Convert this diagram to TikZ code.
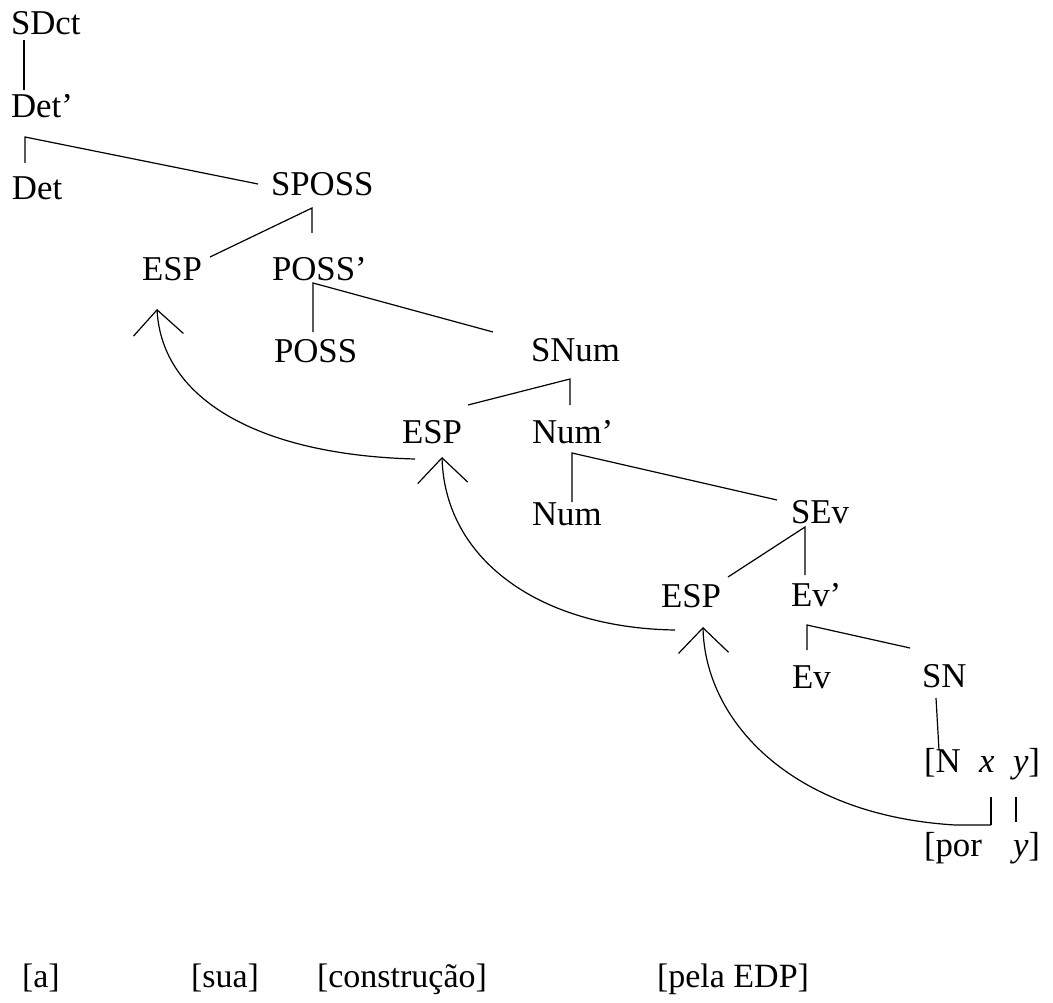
\documentclass[tikz,border=0pt]{standalone}
\usepackage{fontspec}
\setmainfont{Liberation Serif}
\usetikzlibrary{arrows.meta}
\tikzset{
  lbl/.style={anchor=base west, inner sep=0pt, outer sep=0pt,
    font=\fontsize{34.8}{40}\selectfont},
  gloss/.style={lbl, font=\fontsize{34}{40}\selectfont},
  branch/.style={line width=1.2pt, line join=miter},
  raise/.style={line width=1.2pt,
    -{Straight Barb[length=25pt,width=50pt,line width=1.2pt]}},
}
\begin{document}
\begin{tikzpicture}[x=1pt,y=-1pt]
\useasboundingbox (0,0) rectangle (1053,1003);

% ---- category labels (position = left end of the baseline)
\node[lbl] (SDet)    at (11,35)   {SDct};
\node[lbl] (DetBar)  at (11,118)  {Det’};
\node[lbl] (Det)     at (12,200)  {Det};
\node[lbl] (SPOSS)   at (271,196) {SPOSS};
\node[lbl] (ESPa)    at (142,281) {ESP};
\node[lbl] (POSSBar) at (272,281) {POSS’};
\node[lbl] (POSS)    at (274,362) {POSS};
\node[lbl] (SNum)    at (531,361) {SNum};
\node[lbl] (ESPb)    at (402,443) {ESP};
\node[lbl] (NumBar)  at (532,443) {Num’};
\node[lbl] (Num)     at (532,525) {Num};
\node[lbl] (SEv)     at (791,523) {SEv};
\node[lbl] (ESPc)    at (661,607) {ESP};
\node[lbl] (EvBar)   at (791,606) {Ev’};
\node[lbl] (Ev)      at (792,688) {Ev};
\node[lbl] (SN)      at (922,687) {SN};
\node[lbl] (Nhead)   at (924,772) {[N};
\node[lbl] (xarg)    at (979,772) {\textit{x}};
\node[lbl] (yarg)    at (1013,772) {\textit{y}]};
\node[lbl] (por)     at (924,856) {[por};
\node[lbl] (ypor)    at (1013,856) {\textit{y}]};

% ---- gloss line
\node[gloss] (wa)   at (22,987)  {[a]};
\node[gloss] (wsua) at (191,987) {[sua]};
\node[gloss] (wcon) at (317,987) {[construção]};
\node[gloss] (wpela) at (657,987) {[pela EDP]};

% ---- branch points and line ends
\coordinate (SDet-d)   at (24,40);
\coordinate (DetBar-u) at (24,90);
\coordinate (kDet)     at (25,137);
\coordinate (Det-u)    at (25,163);
\coordinate (SPOSS-l)  at (258,184);
\coordinate (kSPOSS)   at (312,208);
\coordinate (ESPa-r)   at (210,257);
\coordinate (POSSBar-u) at (312,233);
\coordinate (kPOSS)    at (313,283);
\coordinate (POSS-u)   at (313,332);
\coordinate (SNum-l)   at (493,332);
\coordinate (kSNum)    at (570,379);
\coordinate (ESPb-r)   at (468,405);
\coordinate (NumBar-u) at (570,405);
\coordinate (kNum)     at (572,453);
\coordinate (Num-u)    at (572,502);
\coordinate (SEv-l)    at (777,500);
\coordinate (kSEv)     at (805,527);
\coordinate (ESPc-r)   at (728,577);
\coordinate (EvBar-u)  at (805,575);
\coordinate (kEv)      at (807,625);
\coordinate (Ev-u)     at (807,650);
\coordinate (SN-l)     at (910,648);
\coordinate (SN-d)     at (936,698);
\coordinate (Nhead-u)  at (939,750);
\coordinate (xarg-d)   at (991,797);
\coordinate (xfoot)    at (991,825);
\coordinate (yarg-d)   at (1016,797);
\coordinate (ypor-u)   at (1016,822);

% ---- movement landing sites below each ESP
\coordinate (ESPa-land) at (157,309);
\coordinate (ESPb-land) at (442,457);
\coordinate (ESPc-land) at (703,627);
\coordinate (ESPb-src)  at (415,459);
\coordinate (ESPc-src)  at (675,630);

% ---- tree branches
\draw[branch] (SDet-d) -- (DetBar-u);
\draw[branch] (Det-u) -- (kDet) -- (SPOSS-l);
\draw[branch] (ESPa-r) -- (kSPOSS) -- (POSSBar-u);
\draw[branch] (POSS-u) -- (kPOSS) -- (SNum-l);
\draw[branch] (ESPb-r) -- (kSNum) -- (NumBar-u);
\draw[branch] (Num-u) -- (kNum) -- (SEv-l);
\draw[branch] (ESPc-r) -- (kSEv) -- (EvBar-u);
\draw[branch] (Ev-u) -- (kEv) -- (SN-l);
\draw[branch] (SN-d) -- (Nhead-u);
\draw[branch] (xarg-d) -- (xfoot);
\draw[branch] (yarg-d) -- (ypor-u);

% ---- movement arcs
\draw[raise] (xfoot) -- (955,825)
  .. controls (790,815) and (705,720) .. (ESPc-land);
\draw[raise] (ESPc-src)
  .. controls (540,628) and (445,560) .. (ESPb-land);
\draw[raise] (ESPb-src)
  .. controls (260,455) and (162,400) .. (ESPa-land);
\end{tikzpicture}
\end{document}
